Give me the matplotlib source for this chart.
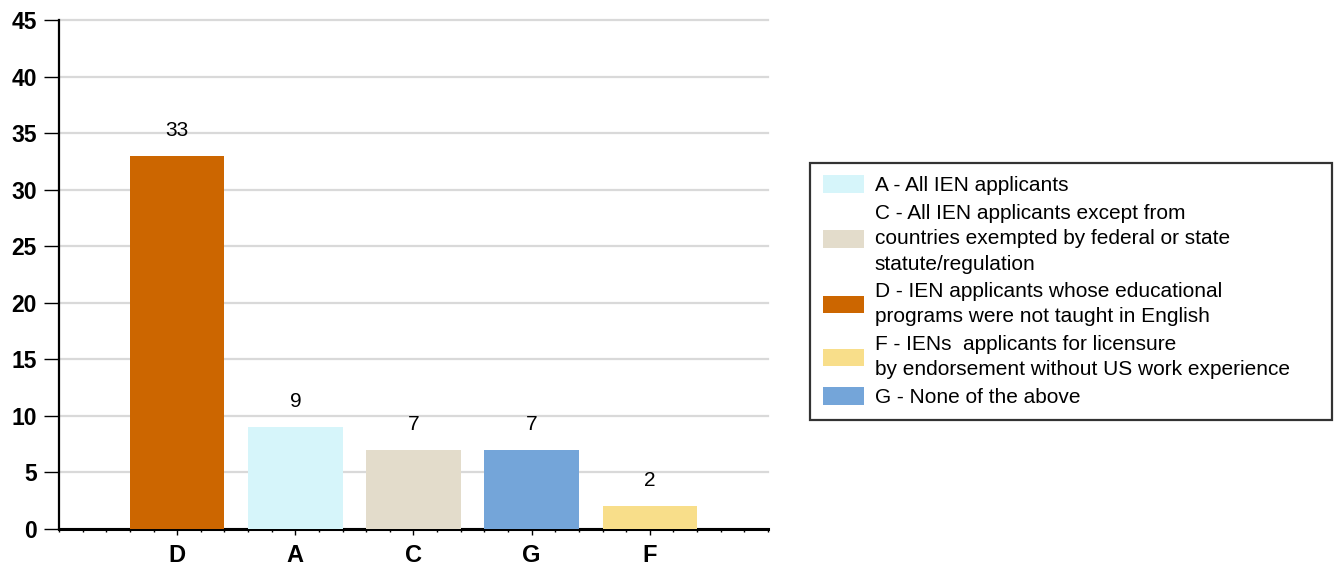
import matplotlib.pyplot as plt
from matplotlib.patches import Patch
from matplotlib.ticker import MultipleLocator

plt.rcParams['font.family'] = ['Liberation Sans', 'DejaVu Sans']

categories = ['D', 'A', 'C', 'G', 'F']
counts = [33, 9, 7, 7, 2]
bar_colors = ['#CC6600', '#D6F5FA', '#E3DCCB', '#74A5D9', '#F8DE8A']

legend_keys = ['A', 'C', 'D', 'F', 'G']
legend_labels = [
    'A - All IEN applicants',
    'C - All IEN applicants except from\ncountries exempted by federal or state\nstatute/regulation',
    'D - IEN applicants whose educational\nprograms were not taught in English',
    'F - IENs  applicants for licensure\nby endorsement without US work experience',
    'G - None of the above',
]

fig = plt.figure(figsize=(13.34, 5.66), dpi=100)
ax = fig.add_axes([59 / 1334, 37 / 566, 709 / 1334, 509 / 566])

x = list(range(len(categories)))
ax.bar(x, counts, width=0.8, color=bar_colors, zorder=3)
for xi, v in zip(x, counts):
    ax.annotate(str(v), (xi, v), xytext=(0, 18.5), textcoords='offset points',
                ha='center', va='center', fontsize=15)

ax.set_xlim(-1, 5)
ax.set_ylim(0, 45)
ax.set_yticks(range(0, 46, 5))
ax.set_xticks(x)
ax.set_xticklabels(categories)
ax.xaxis.set_minor_locator(MultipleLocator(0.2))
ax.yaxis.grid(True, color='#D9D9D9', linewidth=1.6, zorder=0)
ax.set_axisbelow(True)
for gl in ax.get_ygridlines():
    gl.set_clip_on(False)

for s in ['top', 'right']:
    ax.spines[s].set_visible(False)
ax.spines['left'].set_linewidth(1.6)
ax.spines['bottom'].set_linewidth(2.2)

ax.tick_params(axis='y', length=11, width=1, pad=5, labelsize=16.5)
ax.tick_params(axis='x', which='major', length=4.5, width=1, pad=6, labelsize=17)
ax.tick_params(axis='x', which='minor', length=2.5, width=1)
for lab in ax.get_xticklabels() + ax.get_yticklabels():
    lab.set_fontweight('bold')

handles = [Patch(facecolor=bar_colors[categories.index(k)]) for k in legend_keys]
leg = fig.legend(handles, legend_labels, loc='upper left',
                 bbox_to_anchor=(810 / 1334, 1 - 163 / 566, 522 / 1334, 0),
                 mode='expand',
                 fontsize=15, frameon=True, fancybox=False, borderaxespad=0,
                 handlelength=2.0, handleheight=0.9, handletextpad=0.5,
                 labelspacing=0.4, borderpad=0.6)
for t in leg.get_texts():
    t.set_linespacing(1.43)
leg.get_frame().set_edgecolor('black')
leg.get_frame().set_linewidth(1.6)

fig.savefig('out.png', dpi=100)
